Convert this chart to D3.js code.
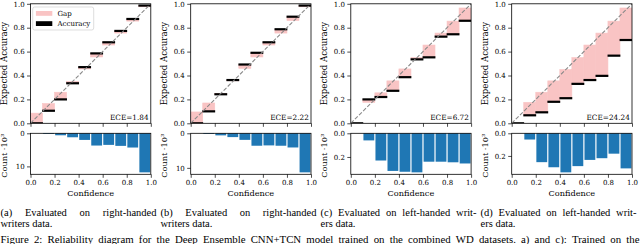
<!DOCTYPE html>
<html><head><meta charset="utf-8">
<script src="https://cdn.jsdelivr.net/npm/d3@7"></script>
<style>body{margin:0;background:#fff}svg{display:block}</style>
</head><body>
<svg id="chart" width="640" height="244"></svg>
<script>
// ---------- data ----------
const binEdges = [0.0,0.1,0.2,0.3,0.4,0.5,0.6,0.7,0.8,0.9];
const accA  = [0.0, 0.105, 0.20, 0.335, 0.47, 0.585, 0.678, 0.773, 0.873, 0.985];
const confA = [0.085, 0.165, 0.26, 0.35, 0.455, 0.555, 0.655, 0.755, 0.855, 0.975];
const countA = [0, 0.2, 0.6, 1.2, 2.0, 3.7, 3.5, 3.8, 4.3, 11.8];
const accB  = [0.0, 0.10, 0.243, 0.362, 0.492, 0.59, 0.678, 0.787, 0.892, 0.985];
const confB = [0.095, 0.17, 0.25, 0.355, 0.46, 0.555, 0.655, 0.755, 0.86, 0.975];
const countB = [0, 0.2, 0.6, 1.1, 1.9, 3.6, 3.5, 3.6, 4.1, 11.3];
const accC  = [0.0, 0.20, 0.22, 0.272, 0.386, 0.535, 0.552, 0.725, 0.745, 0.858];
const confC = [0.0, 0.175, 0.255, 0.355, 0.455, 0.55, 0.655, 0.755, 0.855, 0.965];
const countC = [0, 0.06, 0.23, 0.318, 0.325, 0.33, 0.24, 0.24, 0.245, 0.255];
const accD  = [0.0, 0.067, 0.092, 0.18, 0.21, 0.33, 0.362, 0.397, 0.566, 0.697];
const confD = [0.0, 0.175, 0.26, 0.355, 0.45, 0.55, 0.655, 0.755, 0.855, 0.965];
const countD = [0, 0.055, 0.255, 0.30, 0.345, 0.29, 0.235, 0.22, 0.18, 0.31];
const eceLabels = ["ECE=1.84", "ECE=2.22", "ECE=6.72", "ECE=24.24"];
const unitTicks = [0.0, 0.2, 0.4, 0.6, 0.8, 1.0];
const countTicksLarge = [0, 10];
const countTicksSmall = [0.0, 0.2];
const legendLabels = ["Gap", "Accuracy"];
const xLabel = "Confidence";
const yLabelTop = "Expected Accuracy";
const yLabelBottom = "Count \u00b710\u00b3";
const captionLine1 = ["(a) Evaluated on right-handed", "(b) Evaluated on right-handed",
                      "(c) Evaluated on left-handed writ-", "(d) Evaluated on left-handed writ-"];
const captionLine2 = ["writers data.", "writers data.", "ers data.", "ers data."];
const figureLine = "Figure 2: Reliability diagram for the Deep Ensemble CNN+TCN model trained on the combined WD datasets. a) and c): Trained on the";

const panels = [
  {acc: accA, conf: confA, count: countA, ece: eceLabels[0], cTicks: countTicksLarge, fmt: d3.format("d"), legend: true},
  {acc: accB, conf: confB, count: countB, ece: eceLabels[1], cTicks: countTicksLarge, fmt: d3.format("d"), legend: false},
  {acc: accC, conf: confC, count: countC, ece: eceLabels[2], cTicks: countTicksSmall, fmt: d3.format(".1f"), legend: false},
  {acc: accD, conf: confD, count: countD, ece: eceLabels[3], cTicks: countTicksSmall, fmt: d3.format(".1f"), legend: false}
];

// ---------- layout ----------
const X0 = [30.5, 190.7, 350.8, 511.7];
const W = 120.3;
const topY0 = 3.8, topY1 = 123.3;
const botY0 = 133.3, botY1 = 174.3;
const binW = 0.1;
const SERIF = "'DejaVu Serif', serif";
const CAP = "'Liberation Serif', 'Times New Roman', serif";
const PINK = "#f9c4c4";
const BLUE = "#1f77b4";

const svg = d3.select("#chart");
const defs = svg.append("defs");

panels.forEach((p, i) => {
  const x = d3.scaleLinear().domain([0, 1]).range([X0[i], X0[i] + W]);
  const y = d3.scaleLinear().domain([0, 1]).range([topY1, topY0]);
  const cmax = d3.max(p.count) * 1.05;
  const yc = d3.scaleLinear().domain([0, cmax]).range([botY0, botY1]);

  const clipId = "clip" + i;
  defs.append("clipPath").attr("id", clipId).append("rect")
    .attr("x", X0[i]).attr("y", topY0).attr("width", W).attr("height", topY1 - topY0);

  const gTop = svg.append("g").attr("clip-path", `url(#${clipId})`);
  const bins = binEdges.map((e, k) => ({e, acc: p.acc[k], conf: p.conf[k]}));
  gTop.selectAll("rect.gap").data(bins).join("rect").attr("class", "gap")
    .attr("x", d => x(d.e)).attr("width", d => x(d.e + binW) - x(d.e))
    .attr("y", d => y(Math.max(d.acc, d.conf)))
    .attr("height", d => Math.abs(y(d.acc) - y(d.conf)))
    .attr("fill", PINK).attr("stroke", PINK).attr("stroke-width", 0.6);
  gTop.selectAll("rect.acc").data(bins).join("rect").attr("class", "acc")
    .attr("x", d => x(d.e) - 0.4).attr("width", d => x(d.e + binW) - x(d.e) + 0.8)
    .attr("y", d => y(d.acc) - 1.1).attr("height", 2.2).attr("fill", "#000");
  gTop.append("line").attr("x1", x(0)).attr("y1", y(0)).attr("x2", x(1)).attr("y2", y(1))
    .attr("stroke", "#8a8a8a").attr("stroke-width", 1.1).attr("stroke-dasharray", "4,1.8");

  const axL = svg.append("g").attr("transform", `translate(${X0[i]},0)`)
    .call(d3.axisLeft(y).tickValues(unitTicks).tickFormat(d3.format(".1f")).tickSize(3.5).tickPadding(2.4));
  const axB = svg.append("g").attr("transform", `translate(0,${topY1})`)
    .call(d3.axisBottom(x).tickValues(unitTicks).tickFormat("").tickSize(3.5));
  svg.append("rect").attr("x", X0[i]).attr("y", topY0).attr("width", W).attr("height", topY1 - topY0)
    .attr("fill", "none").attr("stroke", "#000").attr("stroke-width", 0.8);

  svg.append("g").selectAll("rect").data(binEdges.map((e, k) => ({e, c: p.count[k]}))).join("rect")
    .attr("x", d => x(d.e + 0.005)).attr("width", d => x(d.e + 0.095) - x(d.e + 0.005))
    .attr("y", botY0).attr("height", d => yc(d.c) - botY0).attr("fill", BLUE);
  const axLc = svg.append("g").attr("transform", `translate(${X0[i]},0)`)
    .call(d3.axisLeft(yc).tickValues(p.cTicks).tickFormat(p.fmt).tickSize(3.5).tickPadding(2.4));
  const axBc = svg.append("g").attr("transform", `translate(0,${botY1})`)
    .call(d3.axisBottom(x).tickValues(unitTicks).tickFormat(d3.format(".1f")).tickSize(3.5).tickPadding(2.6));
  svg.append("rect").attr("x", X0[i]).attr("y", botY0).attr("width", W).attr("height", botY1 - botY0)
    .attr("fill", "none").attr("stroke", "#000").attr("stroke-width", 0.8);

  [axL, axB, axLc, axBc].forEach(a => {
    a.select(".domain").remove();
    a.selectAll(".tick line").attr("stroke", "#000").attr("stroke-width", 0.7);
    a.selectAll(".tick text").attr("font-family", SERIF).attr("font-size", 7).attr("fill", "#000");
  });

  svg.append("text").attr("x", X0[i] + W - 2.2).attr("y", topY1 - 3.6)
    .attr("text-anchor", "end").attr("font-family", SERIF).attr("font-size", 7.3).text(p.ece);

  svg.append("text").attr("transform", `translate(${X0[i] - 23.5},${(topY0 + topY1) / 2}) rotate(-90)`)
    .attr("text-anchor", "middle").attr("font-family", SERIF).attr("font-size", 8.6).text(yLabelTop);
  svg.append("text").attr("transform", `translate(${X0[i] - 23.5},${(botY0 + botY1) / 2 + 2}) rotate(-90)`)
    .attr("text-anchor", "middle").attr("font-family", SERIF).attr("font-size", 8.2).text(yLabelBottom);
  svg.append("text").attr("x", X0[i] + W / 2).attr("y", 196)
    .attr("text-anchor", "middle").attr("font-family", SERIF).attr("font-size", 8.2).text(xLabel);

  if (p.legend) {
    const lg = svg.append("g").attr("transform", `translate(${X0[i] + 2.2},${topY0 + 3.2})`);
    lg.append("rect").attr("width", 61).attr("height", 23).attr("rx", 2)
      .attr("fill", "#fff").attr("fill-opacity", 0.85).attr("stroke", "#d0d0d0").attr("stroke-width", 0.7);
    const items = legendLabels.map((t, k) => ({t, k}));
    lg.selectAll("rect.sw").data(items).join("rect").attr("class", "sw")
      .attr("x", 3.2).attr("y", d => 4 + d.k * 10.2).attr("width", 16.4).attr("height", 4.8)
      .attr("fill", d => d.k === 0 ? PINK : "#000");
    lg.selectAll("text").data(items).join("text")
      .attr("x", 24.8).attr("y", d => 8.7 + d.k * 10.2)
      .attr("font-family", SERIF).attr("font-size", 7).text(d => d.t);
  }
});

function placeLine(text, x, y, width, justify, size) {
  const words = text.split(" ");
  const g = svg.append("g").attr("font-family", CAP).attr("font-size", size).attr("fill", "#000");
  const nodes = words.map(w => g.append("text").attr("y", y).text(w));
  const widths = nodes.map(n => n.node().getComputedTextLength());
  const total = d3.sum(widths);
  const gap = (justify && words.length > 1) ? (width - total) / (words.length - 1) : size * 0.25;
  let cx = x;
  nodes.forEach((n, k) => { n.attr("x", cx); cx += widths[k] + gap; });
}
captionLine1.forEach((t, i) => placeLine(t, 160 * i + 0.5, 216, 156, true, 10.5));
captionLine2.forEach((t, i) => placeLine(t, 160 * i + 0.5, 226.5, 156, false, 10.5));
placeLine(figureLine, 0.5, 243, 639, true, 10.8);
</script>
</body></html>
